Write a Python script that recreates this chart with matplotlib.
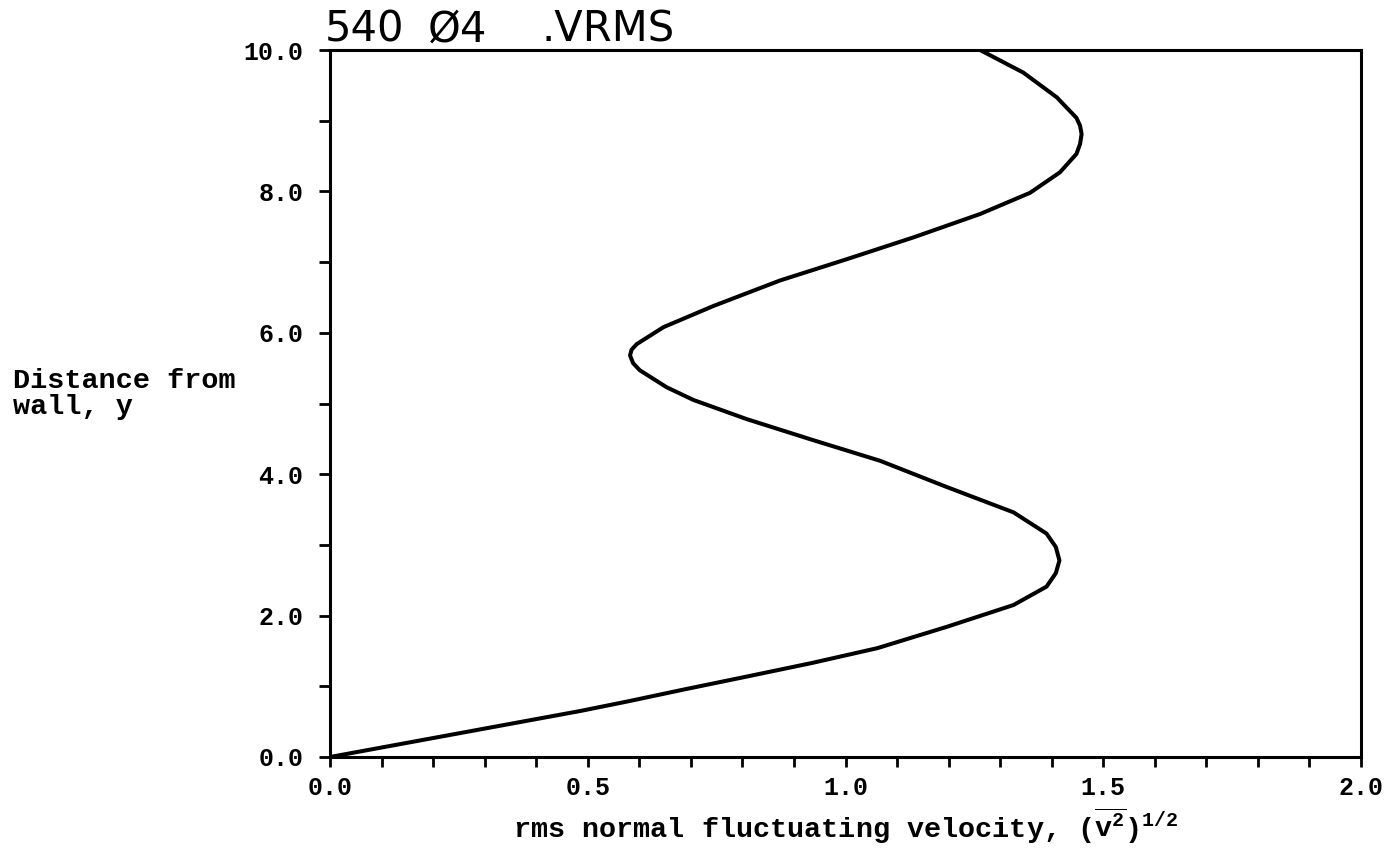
import numpy as np
import matplotlib
matplotlib.use("Agg")
import matplotlib.pyplot as plt
from matplotlib.ticker import MultipleLocator, FormatStrFormatter

# distance from wall (y) and rms normal fluctuating velocity
y_dist = [0.0, 0.13, 0.26, 0.39, 0.52, 0.65, 0.79, 0.96, 1.14, 1.33, 1.54,
          1.84, 2.15, 2.41, 2.60, 2.78, 2.97, 3.16, 3.46, 3.82, 4.19, 4.48,
          4.78, 5.05, 5.23, 5.47, 5.57, 5.68, 5.76, 5.84, 6.08, 6.38, 6.74,
          7.04, 7.35, 7.68, 7.98, 8.27, 8.53, 8.67, 8.81, 8.93, 9.04, 9.33,
          9.68, 10.0]
v_rms = [0.0, 0.097, 0.194, 0.291, 0.388, 0.485, 0.58, 0.69, 0.81, 0.935,
         1.062, 1.196, 1.326, 1.390, 1.408, 1.415, 1.408, 1.390, 1.326, 1.196,
         1.067, 0.938, 0.808, 0.705, 0.653, 0.601, 0.588, 0.582, 0.585, 0.595,
         0.647, 0.744, 0.873, 1.002, 1.132, 1.261, 1.358, 1.416, 1.448, 1.455,
         1.458, 1.455, 1.448, 1.410, 1.345, 1.261]

title_parts = ["540", "\u00d84", ".VRMS"]
x_label = r"rms normal fluctuating velocity, $(\overline{\mathregular{v}^2})^{1/2}$"
y_label = "Distance from\nwall, y"

mono = "Liberation Mono"
plt.rcParams["mathtext.fontset"] = "custom"
plt.rcParams["mathtext.rm"] = "Liberation Mono:bold"
plt.rcParams["mathtext.it"] = "Liberation Sans:italic"

W, H = 1396, 861
fig = plt.figure(figsize=(W / 100, H / 100), dpi=100)
ax = fig.add_axes([330 / W, 1 - 757 / H, (1361 - 330) / W, (757 - 50) / H])

ax.plot(v_rms, y_dist, color="black", lw=2.9, solid_capstyle="round",
        solid_joinstyle="round")

ax.set_xlim(0, 2.0)
ax.set_ylim(0, 10.0)
ax.xaxis.set_major_locator(MultipleLocator(0.5))
ax.xaxis.set_minor_locator(MultipleLocator(0.1))
ax.yaxis.set_major_locator(MultipleLocator(2.0))
ax.yaxis.set_minor_locator(MultipleLocator(1.0))
ax.xaxis.set_major_formatter(FormatStrFormatter("%.1f"))
ax.yaxis.set_major_formatter(FormatStrFormatter("%.1f"))

for s in ax.spines.values():
    s.set_linewidth(2.2)
ax.tick_params(which="both", direction="out", width=2.0, color="black")
ax.tick_params(axis="x", which="both", length=7, pad=7)
ax.tick_params(axis="y", which="both", length=8, pad=11)
for lab in ax.get_xticklabels() + ax.get_yticklabels():
    lab.set_fontfamily(mono)
    lab.set_fontweight("bold")
    lab.set_fontsize(18)

# title in plotter-style lettering, placed piece by piece
title_x = [325, 428, 541]
for txt, px in zip(title_parts, title_x):
    fig.text(px / W, 1 - 42 / H, txt, fontsize=30, family="DejaVu Sans",
             va="baseline", ha="left")

fig.text(513 / W, 1 - 838 / H, x_label, fontsize=20.5, family=mono,
         fontweight="bold", va="baseline", ha="left")
fig.text(13 / W, 1 - 414 / H, y_label, fontsize=20.5, family=mono,
         fontweight="bold", va="baseline", ha="left", linespacing=1.0,
         multialignment="left")

fig.savefig("out.png", dpi=100, facecolor="white")
